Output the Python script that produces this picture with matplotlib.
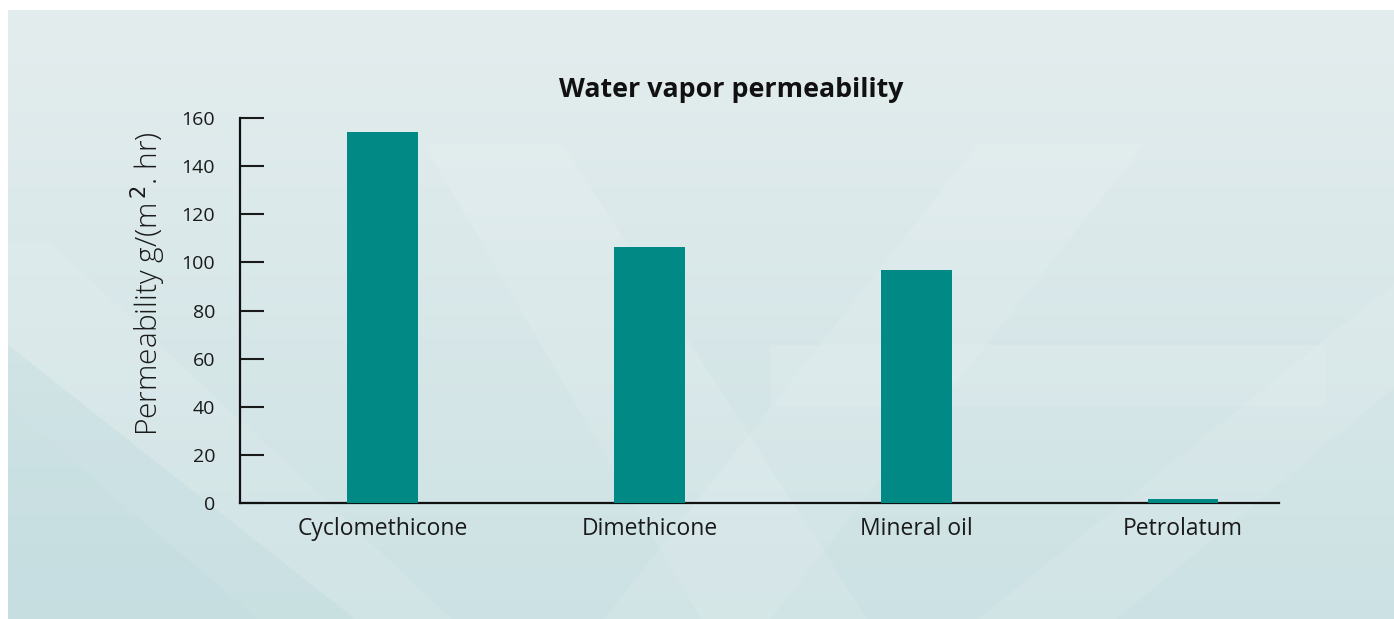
import numpy as np
import matplotlib.pyplot as plt
from matplotlib.patches import Polygon

materials = ['Cyclomethicone', 'Dimethicone', 'Mineral oil', 'Petrolatum']
permeability = [154.2, 106.4, 96.8, 1.7]
yticks = [0, 20, 40, 60, 80, 100, 120, 140, 160]

plt.rcParams['font.family'] = ['Open Sans', 'DejaVu Sans']

fig = plt.figure(figsize=(13.94, 6.19), dpi=100)
fig.patch.set_facecolor('white')

# background panel with soft gradient
bg = fig.add_axes([8 / 1394, 0, 1 - 8 / 1394, 1 - 10 / 619])
bg.set_xlim(0, 1)
bg.set_ylim(0, 1)
bg.axis('off')
top = np.array([0.894, 0.929, 0.933])
bottom = np.array([0.80, 0.885, 0.893])
t = np.linspace(0, 1, 200)[:, None]
grad = (bottom * (1 - t) + top * t)
grad = np.repeat(grad[:, None, :], 2, axis=1)
bg.imshow(grad, extent=[0, 1, 0, 1], origin='lower', aspect='auto', zorder=0)

# faint decorative diagonal shapes
shapes = [
    [(0.0, 0.62), (0.03, 0.62), (0.32, 0.0), (0.18, 0.0), (0.0, 0.35)],
    [(0.30, 0.78), (0.40, 0.78), (0.62, 0.0), (0.50, 0.0)],
    [(0.55, 0.45), (0.95, 0.45), (0.95, 0.35), (0.55, 0.35)],
    [(0.70, 0.78), (0.82, 0.78), (0.55, 0.0), (0.43, 0.0)],
    [(1.0, 0.55), (1.0, 0.38), (0.80, 0.0), (0.70, 0.0)],
]
for pts in shapes:
    bg.add_patch(Polygon(pts, closed=True, facecolor='white', alpha=0.1,
                         edgecolor='none', zorder=1))
bg.add_patch(Polygon([(0.0, 0.45), (0.0, 0.0), (0.25, 0.0)], closed=True,
                     facecolor='#b9d8db', alpha=0.3, edgecolor='none', zorder=1))

ax = fig.add_axes([240 / 1394, 116 / 619, (1279 - 240) / 1394, 385 / 619])
ax.patch.set_alpha(0)
x = np.arange(len(materials))
ax.bar(x, permeability, width=0.266, color='#008985', zorder=3)

ax.set_xlim(-0.536, 3.36)
ax.set_ylim(0, 160)
ax.set_yticks(yticks)
ax.set_xticks(x)
ax.set_xticklabels(materials, fontsize=16.5, color='#1a1a1a')
ax.tick_params(axis='y', direction='in', length=17, width=1.5, labelsize=14,
               colors='#1a1a1a', pad=18)
ax.tick_params(axis='x', length=0, pad=10)

for s in ['top', 'right']:
    ax.spines[s].set_visible(False)
for s in ['left', 'bottom']:
    ax.spines[s].set_linewidth(1.6)
    ax.spines[s].set_color('#111111')

ax.set_ylabel('Permeability g/(m$^{\\,2}$. hr)', fontsize=21.5, color='#1a1a1a',
              fontweight='light')
ax.yaxis.set_label_coords(-0.069, 0.571)
fig.text(731 / 1394, 1 - 90 / 619, 'Water vapor permeability', ha='center',
         va='center', fontsize=19.3, fontweight='bold', color='#111111')

fig.savefig('out.png', dpi=100)
